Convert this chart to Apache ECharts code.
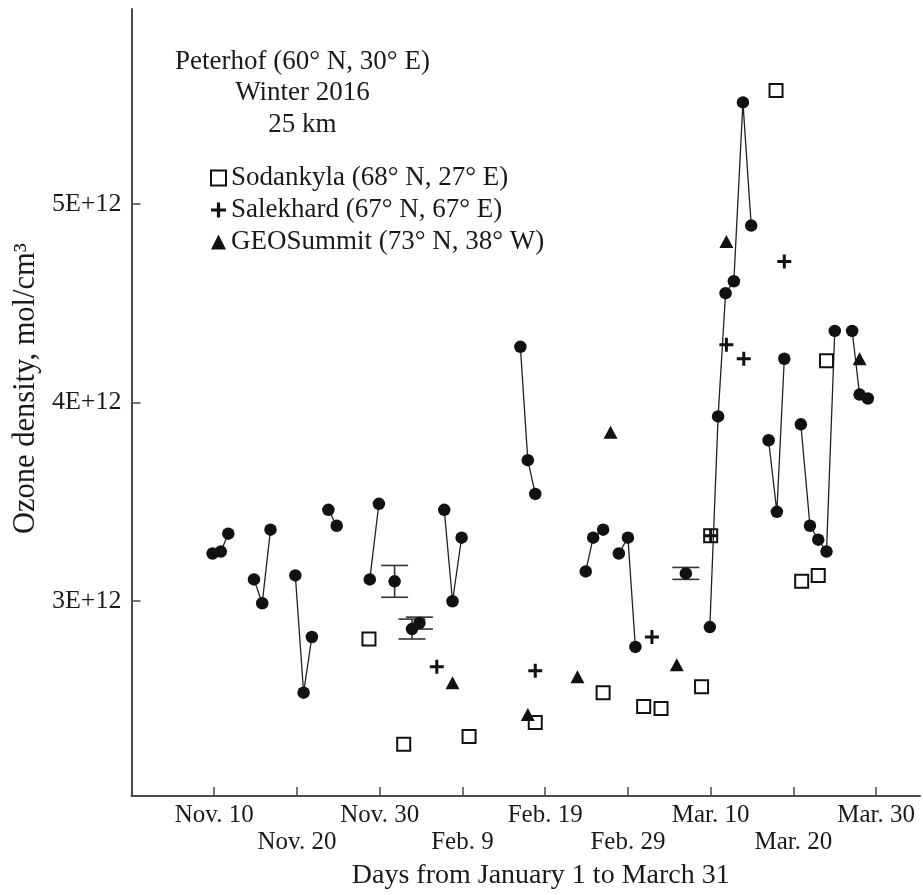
<!DOCTYPE html>
<html>
<head>
<meta charset="utf-8">
<title>Ozone density at 25 km, winter 2016</title>
<script src="https://cdn.jsdelivr.net/npm/echarts@6/dist/echarts.min.js"></script>
<style>
  html, body { margin: 0; padding: 0; background: #fff; }
  #chart { width: 923px; height: 895px; }
</style>
</head>
<body>
<div id="chart"></div>
<script>
// x is a compressed day axis: Nov. 10 = 10, Nov. 20 = 20 ... Mar. 30 = 90
const tickDays = [10, 20, 30, 40, 50, 60, 70, 80, 90]
const tickLabels = ['Nov. 10', 'Nov. 20', 'Nov. 30', 'Feb. 9', 'Feb. 19', 'Feb. 29', 'Mar. 10', 'Mar. 20', 'Mar. 30']
// ozone in units of 1E+12 mol/cm3
const ozoneTicks = [3, 4, 5]

// Peterhof, null = gap between runs of consecutive days
const peterhofDays = [9.8, 10.8, 11.7, null, 14.8, 15.8, 16.8, null, 19.8, 20.8, 21.8, null,
  23.8, 24.8, null, 28.8, 29.9, null, 31.8, null, 33.9, 34.8, null, 37.8, 38.8, 39.9, null,
  47.0, 47.9, 48.8, null, 54.9, 55.8, 57.0, null, 58.9, 60.0, 60.9, null, 67.0, null,
  69.9, 70.9, 71.8, 72.8, 73.9, 74.9, null, 77.0, 78.0, 78.9, null,
  80.9, 82.0, 83.0, 84.0, 85.0, null, 87.1, 88.0, 89.0]
const peterhofOzone = [3.24, 3.25, 3.34, null, 3.11, 2.99, 3.36, null, 3.13, 2.54, 2.82, null,
  3.46, 3.38, null, 3.11, 3.49, null, 3.10, null, 2.86, 2.89, null, 3.46, 3.00, 3.32, null,
  4.28, 3.71, 3.54, null, 3.15, 3.32, 3.36, null, 3.24, 3.32, 2.77, null, 3.14, null,
  2.87, 3.93, 4.55, 4.61, 5.51, 4.89, null, 3.81, 3.45, 4.22, null,
  3.89, 3.38, 3.31, 3.25, 4.36, null, 4.36, 4.04, 4.02]

// error bars on a few Peterhof points
const errDays = [31.8, 33.9, 34.8, 67.0]
const errOzone = [3.10, 2.86, 2.89, 3.14]
const errHalf = [0.08, 0.05, 0.03, 0.03]

const sodankylaDays = [28.7, 32.9, 40.8, 48.8, 57.0, 61.9, 64.0, 68.9, 70.0, 77.9, 81.0, 83.0, 84.0]
const sodankylaOzone = [2.81, 2.28, 2.32, 2.39, 2.54, 2.47, 2.46, 2.57, 3.33, 5.57, 3.10, 3.13, 4.21]

const salekhardDays = [36.9, 48.8, 62.9, 70.0, 71.9, 74.0, 78.9]
const salekhardOzone = [2.67, 2.65, 2.82, 3.33, 4.29, 4.22, 4.71]

const geoSummitDays = [38.8, 47.9, 53.9, 57.9, 65.9, 71.9, 88.0]
const geoSummitOzone = [2.59, 2.43, 2.62, 3.85, 2.68, 4.81, 4.22]

const SERIF = '"Liberation Serif", "DejaVu Serif", serif'
const INK = '#1a1a1a'
const PLUS = 'path://M5.5,0H8.5V5.5H14V8.5H8.5V14H5.5V8.5H0V5.5H5.5Z'

const pairs = (xs, ys) => xs.map((x, i) => (x === null ? ['-', '-'] : [x, ys[i]]))

const chart = echarts.init(document.getElementById('chart'))

chart.setOption({
  animation: false,
  backgroundColor: '#fff',
  textStyle: { fontFamily: SERIF, color: INK },
  grid: { left: 131.5, right: 3, top: 9, bottom: 97 },
  graphic: [
    {
      type: 'text',
      x: 302.5,
      y: 46,
      style: {
        text: 'Peterhof (60° N, 30° E)\nWinter 2016\n25 km',
        align: 'center',
        verticalAlign: 'top',
        fontFamily: SERIF,
        fontSize: 27,
        lineHeight: 31.5,
        fill: INK
      }
    }
  ],
  legend: {
    orient: 'vertical',
    left: 205,
    top: 158,
    itemWidth: 15,
    itemHeight: 15,
    itemGap: 2,
    selectedMode: false,
    textStyle: { fontFamily: SERIF, fontSize: 27, color: INK, lineHeight: 30 },
    data: ['Sodankyla (68° N, 27° E)', 'Salekhard (67° N, 67° E)', 'GEOSummit (73° N, 38° W)']
  },
  xAxis: {
    type: 'value',
    min: 0,
    max: 95.3,
    name: 'Days from January 1 to March 31',
    nameLocation: 'middle',
    nameGap: 66,
    nameTextStyle: { fontFamily: SERIF, fontSize: 28, color: INK, padding: [0, 0, 0, 30] },
    splitLine: { show: false },
    axisLine: { lineStyle: { color: '#4a4a4a', width: 2 } },
    axisTick: { inside: true, length: 9, lineStyle: { color: '#4a4a4a', width: 1.5 }, customValues: tickDays },
    axisLabel: {
      customValues: tickDays,
      margin: 6,
      fontFamily: SERIF,
      fontSize: 25,
      lineHeight: 27,
      color: INK,
      formatter: (v) => {
        const i = tickDays.indexOf(v)
        if (i < 0) return ''
        return i % 2 === 0 ? tickLabels[i] : '\n' + tickLabels[i]
      }
    }
  },
  yAxis: {
    type: 'value',
    min: 2.02,
    max: 5.98,
    name: 'Ozone density, mol/cm³',
    nameLocation: 'middle',
    nameGap: 90,
    nameRotate: 90,
    nameTextStyle: { fontFamily: SERIF, fontSize: 30.5, color: INK, padding: [0, 0, 0, 28] },
    splitLine: { show: false },
    axisLine: { show: true, lineStyle: { color: '#4a4a4a', width: 2 } },
    axisTick: { inside: true, length: 9, lineStyle: { color: '#4a4a4a', width: 1.5 }, customValues: ozoneTicks },
    axisLabel: {
      customValues: ozoneTicks,
      margin: 10,
      fontFamily: SERIF,
      fontSize: 26,
      color: INK,
      formatter: (v) => v + 'E+12'
    }
  },
  series: [
    {
      name: 'Peterhof',
      type: 'line',
      data: pairs(peterhofDays, peterhofOzone),
      connectNulls: false,
      showAllSymbol: true,
      symbol: 'circle',
      symbolSize: 12.5,
      itemStyle: { color: '#111', opacity: 1 },
      lineStyle: { color: '#222', width: 1.3 },
      z: 3
    },
    {
      name: 'error',
      type: 'custom',
      data: errDays.map((d, i) => [d, errOzone[i] - errHalf[i], errOzone[i] + errHalf[i]]),
      encode: { x: 0, y: [1, 2] },
      renderItem: (params, api) => {
        const x = api.value(0)
        const lo = api.coord([x, api.value(1)])
        const hi = api.coord([x, api.value(2)])
        const w = 13.5
        const style = { stroke: '#333', lineWidth: 1.6 }
        return {
          type: 'group',
          children: [
            { type: 'line', shape: { x1: hi[0], y1: hi[1], x2: lo[0], y2: lo[1] }, style },
            { type: 'line', shape: { x1: hi[0] - w, y1: hi[1], x2: hi[0] + w, y2: hi[1] }, style },
            { type: 'line', shape: { x1: lo[0] - w, y1: lo[1], x2: lo[0] + w, y2: lo[1] }, style }
          ]
        }
      },
      z: 2
    },
    {
      name: 'Sodankyla (68° N, 27° E)',
      type: 'scatter',
      data: pairs(sodankylaDays, sodankylaOzone),
      symbol: 'rect',
      symbolSize: 13,
      itemStyle: { color: 'rgba(255,255,255,0)', borderColor: '#111', borderWidth: 2, opacity: 1 },
      z: 4
    },
    {
      name: 'Salekhard (67° N, 67° E)',
      type: 'scatter',
      data: pairs(salekhardDays, salekhardOzone),
      symbol: PLUS,
      symbolSize: 14,
      itemStyle: { color: '#111', opacity: 1 },
      z: 4
    },
    {
      name: 'GEOSummit (73° N, 38° W)',
      type: 'scatter',
      data: pairs(geoSummitDays, geoSummitOzone),
      symbol: 'triangle',
      symbolSize: [14, 13],
      itemStyle: { color: '#111', opacity: 1 },
      z: 4
    }
  ]
})
</script>
</body>
</html>
